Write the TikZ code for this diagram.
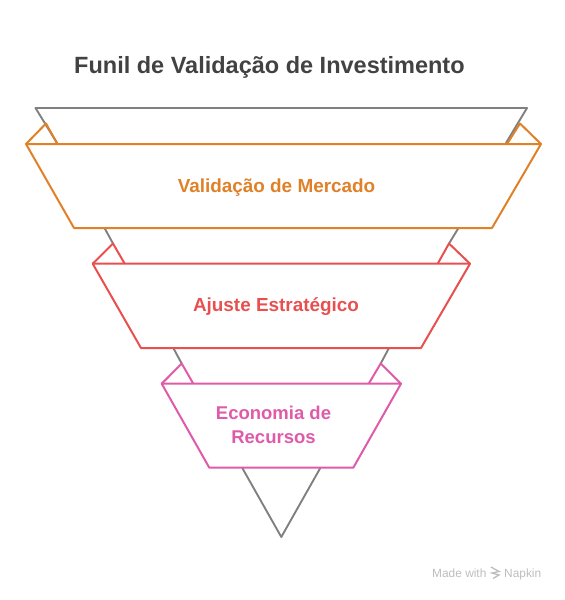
\documentclass[tikz,border=0pt]{standalone}
\usepackage{fontspec}
\setmainfont{Liberation Sans}
\definecolor{funnelgray}{HTML}{808080}
\definecolor{titlegray}{HTML}{424242}
\definecolor{logogray}{HTML}{BDBDBD}
\definecolor{marketorange}{HTML}{E08027}
\definecolor{strategyred}{HTML}{E85050}
\definecolor{resourcepink}{HTML}{DF5BAA}
\tikzset{
  funnelline/.style={funnelgray, line width=1.9pt, line join=round},
  stageline/.style={line width=2pt, line join=round},
  stagelabel/.style={font=\bfseries\fontsize{18.9}{24}\selectfont, align=center, inner sep=0pt},
  logotext/.style={logogray, font=\fontsize{11.9}{13}\selectfont, inner sep=0pt}
}
\begin{document}
\begin{tikzpicture}[x=1pt, y=-1pt]
    \useasboundingbox (0,0) rectangle (565,600);

    % Title
    \node[titlegray, font=\bfseries\fontsize{23.5}{28}\selectfont, anchor=base west, inner sep=0pt] (title) at (74,73) {Funil de Validação de Investimento};

    % Gray funnel
    \coordinate (topL) at (35.5,108);
    \coordinate (topR) at (527,108);
    \coordinate (topLend) at (57,143);
    \coordinate (topRend) at (506,143);
    \coordinate (midLa) at (104.5,228);
    \coordinate (midLb) at (113,243.5);
    \coordinate (midRa) at (458.5,228);
    \coordinate (midRb) at (449,243.5);
    \coordinate (lowLa) at (173.3,348);
    \coordinate (lowLb) at (181.7,363.5);
    \coordinate (lowRa) at (389,348);
    \coordinate (lowRb) at (380.7,363.5);
    \coordinate (tipL) at (242.3,468);
    \coordinate (tipR) at (320.3,468);
    \coordinate (tip) at (281.3,537);
    \draw[funnelline] (topLend) -- (topL) -- (topR) -- (topRend);
    \draw[funnelline] (midLa) -- (midLb);
    \draw[funnelline] (midRa) -- (midRb);
    \draw[funnelline] (lowLa) -- (lowLb);
    \draw[funnelline] (lowRa) -- (lowRb);
    \draw[funnelline] (tipL) -- (tip) -- (tipR);

    % Validacao
    \draw[stageline, marketorange] (26,144) -- (541,144) -- (492,228) -- (74,228) -- cycle;
    \draw[stageline, marketorange] (26,144) -- (46,123.5) -- (57.5,144);
    \draw[stageline, marketorange] (541,144) -- (520,123.5) -- (507,144);
    \node[stagelabel, marketorange] (market) at (276.5,187.5) {Validação de Mercado};

    % Ajuste
    \draw[stageline, strategyred] (92.7,263.7) -- (470,263.7) -- (421,348) -- (141,348) -- cycle;
    \draw[stageline, strategyred] (92.7,263.7) -- (113,243.5) -- (124.7,263.7);
    \draw[stageline, strategyred] (470,263.7) -- (449,243.5) -- (437.7,263.7);
    \node[stagelabel, strategyred] (strategy) at (276,307) {Ajuste Estratégico};

    % Economia
    \draw[stageline, resourcepink] (161.7,383.7) -- (401,383.7) -- (353.3,467.7) -- (209.3,467.7) -- cycle;
    \draw[stageline, resourcepink] (161.7,383.7) -- (181.7,363.5) -- (193.3,383.7);
    \draw[stageline, resourcepink] (401,383.7) -- (380.7,363.5) -- (368.7,383.7);
    \node[stagelabel, resourcepink, font=\bfseries\fontsize{18.5}{24}\selectfont] (resource) at (273.5,425) {Economia de\\Recursos};

    % Logo
    \node[logotext, anchor=base west] (made) at (432,577) {Made with};
    \node[logotext, anchor=base west] (napkin) at (504,577) {Napkin};
    \draw[logogray, line width=1.3pt] (491,567) -- (499,571.5) -- (492,573) -- (499,575) -- (493,578.5);
\end{tikzpicture}
\end{document}
